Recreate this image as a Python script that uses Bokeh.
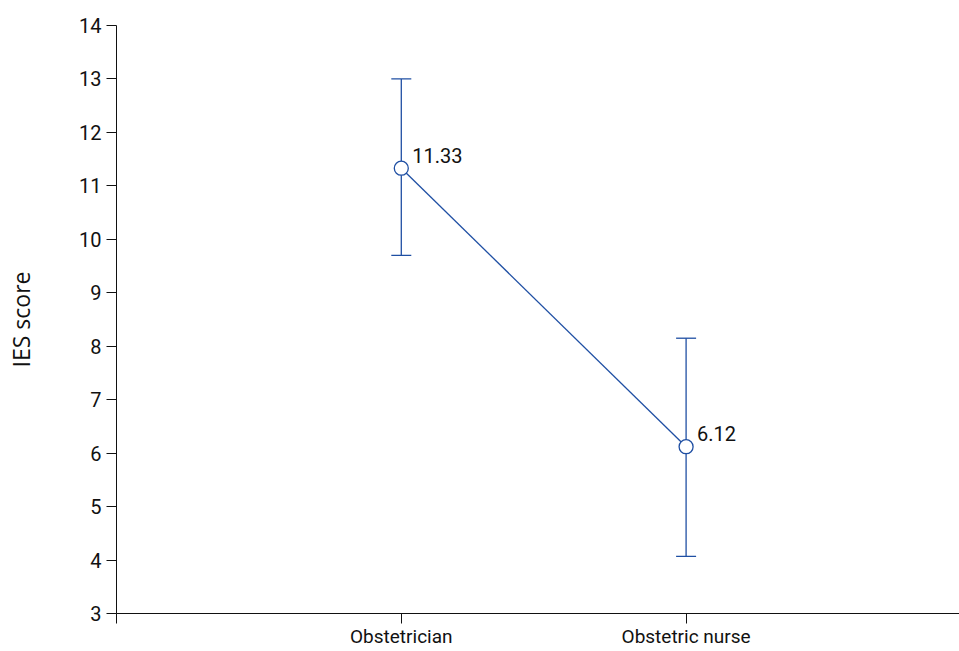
from bokeh.plotting import figure
from bokeh.models import ColumnDataSource, FixedTicker, Range1d, Whisker, LabelSet
from bokeh.core.properties import value
from bokeh.embed import file_html
from bokeh.resources import INLINE

categories = ["Obstetrician", "Obstetric nurse"]
positions = [1, 2]
means = [11.33, 6.12]
upper = [13.0, 8.15]
lower = [9.7, 4.07]
labels = ["11.33", "6.12"]
y_ticks = list(range(3, 15))

color = "#1f4fa3"
tick_font = "Roboto"

src = ColumnDataSource(dict(x=positions, y=means, up=upper, lo=lower, lab=labels))

p = figure(frame_width=843, frame_height=588, output_backend="svg", toolbar_location=None,
           x_range=Range1d(0, 2.96), y_range=Range1d(3, 14),
           min_border_left=116, min_border_right=0, min_border_top=25, min_border_bottom=37)
p.outline_line_color = None
p.grid.visible = False
p.background_fill_color = "white"
p.border_fill_color = "white"

p.line("x", "y", source=src, line_color=color, line_width=1.3)
w = Whisker(base="x", upper="up", lower="lo", source=src, line_color=color, line_width=1.3)
w.upper_head.size = 20
w.lower_head.size = 20
w.upper_head.line_color = color
w.lower_head.line_color = color
w.upper_head.line_width = 1.3
w.lower_head.line_width = 1.3
p.add_layout(w)
p.scatter("x", "y", source=src, size=14, fill_color="white", line_color=color, line_width=1.3)

lbl = LabelSet(x="x", y="y", text="lab", source=src, x_offset=11, y_offset=13,
               text_font=value(tick_font), text_font_size=value("20px"), text_color="#111111",
               text_baseline="middle", text_align="left")
p.add_layout(lbl)

p.xaxis.ticker = FixedTicker(ticks=[0] + positions)
p.xaxis.major_label_overrides = {0: ""} | {pos: c for pos, c in zip(positions, categories)}
p.xaxis.minor_tick_line_color = None
p.xaxis.major_tick_out = 10
p.xaxis.major_tick_in = 0
p.xaxis.major_label_standoff = 1
p.xaxis.major_label_text_font = tick_font
p.xaxis.major_label_text_font_size = "19px"
p.xaxis.major_label_text_color = "#111111"
p.xaxis.axis_line_color = "#111111"
p.xaxis.major_tick_line_color = "#111111"

p.yaxis.ticker = FixedTicker(ticks=y_ticks)
p.yaxis.minor_tick_line_color = None
p.yaxis.major_tick_out = 10
p.yaxis.major_tick_in = 0
p.yaxis.major_label_standoff = 5
p.yaxis.major_label_text_font = tick_font
p.yaxis.major_label_text_font_size = "20px"
p.yaxis.major_label_text_color = "#111111"
p.yaxis.axis_line_color = "#111111"
p.yaxis.major_tick_line_color = "#111111"
p.yaxis.axis_label = "IES score"
p.yaxis.axis_label_text_font = "Open Sans"
p.yaxis.axis_label_text_font_style = "normal"
p.yaxis.axis_label_text_font_size = "23px"
p.yaxis.axis_label_text_color = "#111111"
p.yaxis.axis_label_standoff = 39

open("out.html", "w").write(file_html(p, INLINE))
